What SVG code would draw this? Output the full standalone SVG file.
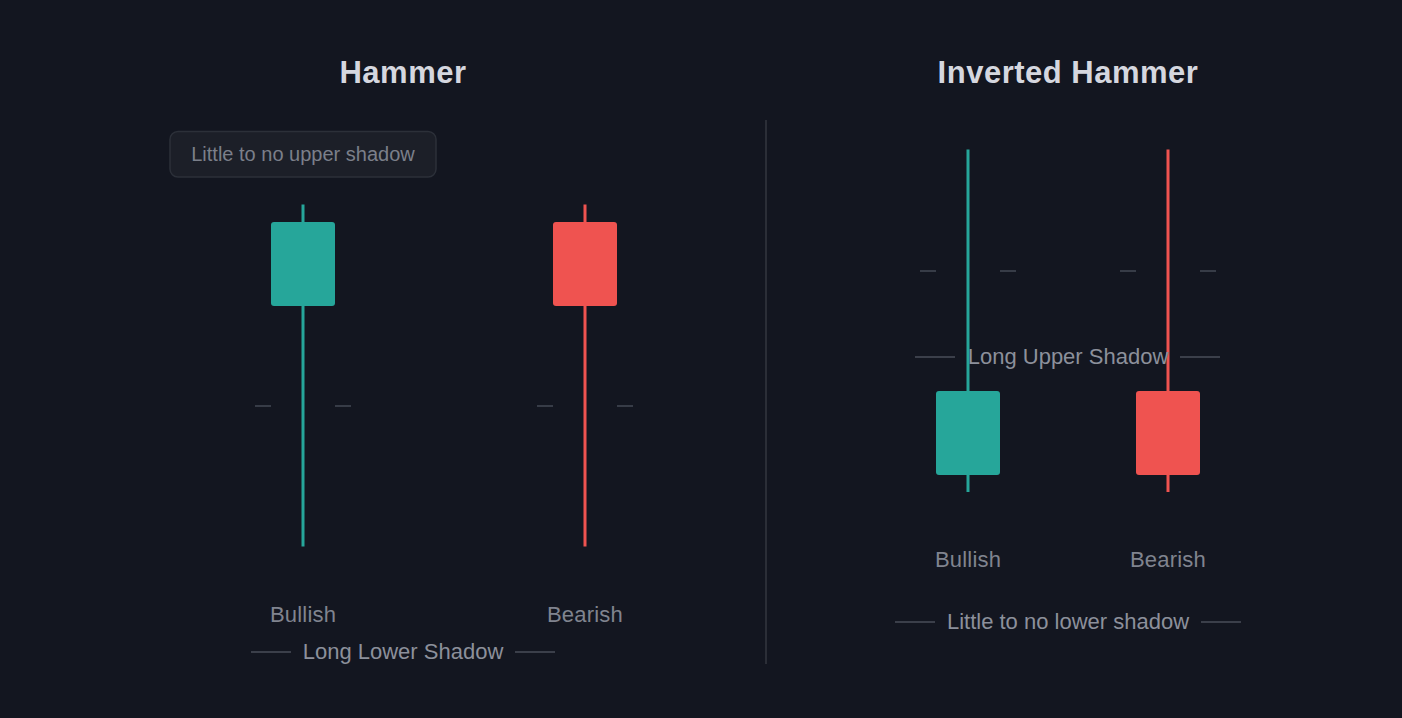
<svg xmlns="http://www.w3.org/2000/svg" width="1402" height="718" viewBox="0 0 1402 718">
<style>
.title{font-family:"Liberation Sans",Arial,sans-serif;font-weight:bold;font-size:31px;letter-spacing:0.5px;fill:#d5d7df;text-anchor:middle}
.lbl{font-family:"Liberation Sans",Arial,sans-serif;font-size:22px;letter-spacing:0.2px;fill:#80848f;text-anchor:middle}
.ann{font-family:"Liberation Sans",Arial,sans-serif;font-size:22px;fill:#8c909b;text-anchor:middle}
.tip{font-family:"Liberation Sans",Arial,sans-serif;font-size:20px;fill:#7b7f8a;text-anchor:middle}
.tick{stroke:#454a55;stroke-width:1.5}
.rule{stroke:#4a4e58;stroke-width:1.5}
.bull{fill:#26a69a}
.bear{fill:#ef5350}
.wbull{stroke:#26a69a;stroke-width:3}
.wbear{stroke:#ef5350;stroke-width:3}
</style>
<rect width="1402" height="718" fill="#131620"/>
<line x1="766" y1="120" x2="766" y2="664" stroke="#2b2e37" stroke-width="2"/>
<text class="title" x="403" y="83">Hammer</text>
<text class="title" x="1068" y="83">Inverted Hammer</text>
<g id="tooltip-upper">
<rect x="170" y="131.5" width="266" height="45.5" rx="8" fill="#1c1f28" stroke="#2c3039" stroke-width="1.5"/>
<text class="tip" x="303" y="161">Little to no upper shadow</text>
</g>
<g id="hammer-bullish">
<line class="wbull" x1="303" y1="204.5" x2="303" y2="546.5"/>
<rect class="bull" x="271" y="222" width="64" height="84" rx="3"/>
<line class="tick" x1="255" y1="406" x2="271" y2="406"/>
<line class="tick" x1="335" y1="406" x2="351" y2="406"/>
<text class="lbl" x="303" y="622">Bullish</text>
</g>
<g id="hammer-bearish">
<line class="wbear" x1="585" y1="204.5" x2="585" y2="546.5"/>
<rect class="bear" x="553" y="222" width="64" height="84" rx="3"/>
<line class="tick" x1="537" y1="406" x2="553" y2="406"/>
<line class="tick" x1="617" y1="406" x2="633" y2="406"/>
<text class="lbl" x="585" y="622">Bearish</text>
</g>
<g id="label-lower">
<line class="rule" x1="251" y1="652" x2="291" y2="652"/>
<line class="rule" x1="515" y1="652" x2="555" y2="652"/>
<text class="ann" x="403" y="659">Long Lower Shadow</text>
</g>
<g id="inv-bullish">
<line class="wbull" x1="968" y1="149.5" x2="968" y2="492"/>
<rect class="bull" x="936" y="391" width="64" height="84" rx="3"/>
<line class="tick" x1="920" y1="271" x2="936" y2="271"/>
<line class="tick" x1="1000" y1="271" x2="1016" y2="271"/>
<text class="lbl" x="968" y="567">Bullish</text>
</g>
<g id="inv-bearish">
<line class="wbear" x1="1168" y1="149.5" x2="1168" y2="492"/>
<rect class="bear" x="1136" y="391" width="64" height="84" rx="3"/>
<line class="tick" x1="1120" y1="271" x2="1136" y2="271"/>
<line class="tick" x1="1200" y1="271" x2="1216" y2="271"/>
<text class="lbl" x="1168" y="567">Bearish</text>
</g>
<g id="label-upper">
<line class="rule" x1="915" y1="357" x2="955" y2="357"/>
<line class="rule" x1="1180" y1="357" x2="1220" y2="357"/>
<text class="ann" x="1068" y="364">Long Upper Shadow</text>
</g>
<g id="label-nolower">
<line class="rule" x1="895" y1="622" x2="935" y2="622"/>
<line class="rule" x1="1201" y1="622" x2="1241" y2="622"/>
<text class="ann" x="1068" y="629">Little to no lower shadow</text>
</g>
</svg>
